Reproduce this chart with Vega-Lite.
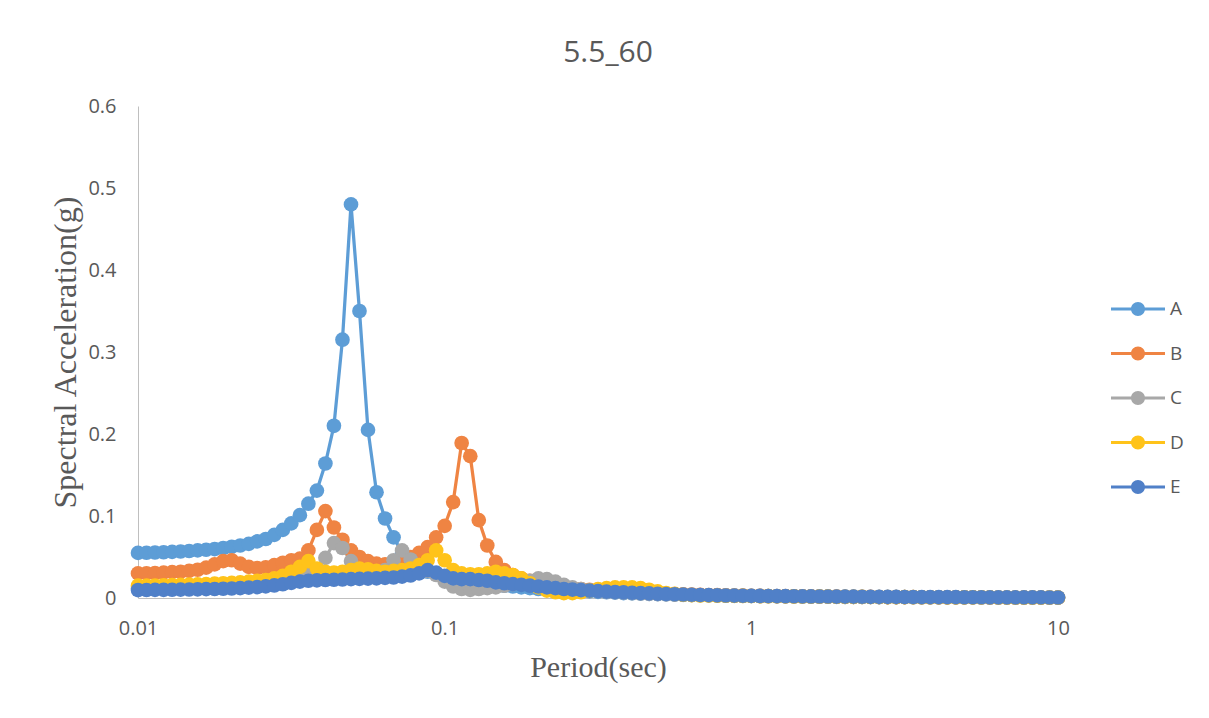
{
  "$schema": "https://vega.github.io/schema/vega-lite/v6.json",
  "width": 920,
  "height": 492,
  "autosize": "none",
  "padding": {"left": 138, "top": 106, "right": 151, "bottom": 120},
  "background": "white",
  "title": {"text": "5.5_60", "font": "Open Sans", "fontSize": 30, "fontWeight": "normal", "color": "#595959", "anchor": "middle", "offset": 28, "dx": 10},
  "config": {"view": {"stroke": null}},
  "data": {"values": [
{"series":"A","period":0.01,"sa":0.055},{"series":"A","period":0.01066,"sa":0.0552},{"series":"A","period":0.01136,"sa":0.0555},{"series":"A","period":0.01212,"sa":0.0558},{"series":"A","period":0.01292,"sa":0.0562},{"series":"A","period":0.01377,"sa":0.0567},{"series":"A","period":0.01468,"sa":0.0573},{"series":"A","period":0.01565,"sa":0.058},{"series":"A","period":0.01668,"sa":0.0588},{"series":"A","period":0.01778,"sa":0.0597},
{"series":"A","period":0.01896,"sa":0.061},{"series":"A","period":0.02021,"sa":0.0625},{"series":"A","period":0.02154,"sa":0.064},{"series":"A","period":0.02297,"sa":0.066},{"series":"A","period":0.02448,"sa":0.069},{"series":"A","period":0.0261,"sa":0.072},{"series":"A","period":0.02783,"sa":0.077},{"series":"A","period":0.02967,"sa":0.083},{"series":"A","period":0.03162,"sa":0.091},{"series":"A","period":0.03372,"sa":0.101},
{"series":"A","period":0.03594,"sa":0.115},{"series":"A","period":0.03831,"sa":0.131},{"series":"A","period":0.04084,"sa":0.164},{"series":"A","period":0.04354,"sa":0.21},{"series":"A","period":0.04642,"sa":0.315},{"series":"A","period":0.0495,"sa":0.48},{"series":"A","period":0.05275,"sa":0.35},{"series":"A","period":0.05623,"sa":0.205},{"series":"A","period":0.05995,"sa":0.129},{"series":"A","period":0.06391,"sa":0.097},
{"series":"A","period":0.06813,"sa":0.074},{"series":"A","period":0.07263,"sa":0.055},{"series":"A","period":0.07743,"sa":0.043},{"series":"A","period":0.08254,"sa":0.036},{"series":"A","period":0.08799,"sa":0.032},{"series":"A","period":0.09381,"sa":0.029},{"series":"A","period":0.1,"sa":0.026},{"series":"A","period":0.1066,"sa":0.023},{"series":"A","period":0.1136,"sa":0.021},{"series":"A","period":0.1212,"sa":0.019},
{"series":"A","period":0.1292,"sa":0.018},{"series":"A","period":0.1377,"sa":0.017},{"series":"A","period":0.1468,"sa":0.016},{"series":"A","period":0.1565,"sa":0.015},{"series":"A","period":0.1668,"sa":0.014},{"series":"A","period":0.1778,"sa":0.013},{"series":"A","period":0.1896,"sa":0.012},{"series":"A","period":0.2021,"sa":0.011},{"series":"A","period":0.2154,"sa":0.0105},{"series":"A","period":0.2297,"sa":0.01},
{"series":"A","period":0.2448,"sa":0.0095},{"series":"A","period":0.261,"sa":0.009},{"series":"A","period":0.2783,"sa":0.0085},{"series":"A","period":0.2967,"sa":0.008},{"series":"A","period":0.3162,"sa":0.0075},{"series":"A","period":0.3372,"sa":0.007},{"series":"A","period":0.3594,"sa":0.0065},{"series":"A","period":0.3831,"sa":0.006},{"series":"A","period":0.4084,"sa":0.0057},{"series":"A","period":0.4354,"sa":0.0054},
{"series":"A","period":0.4642,"sa":0.0051},{"series":"A","period":0.495,"sa":0.0048},{"series":"A","period":0.5275,"sa":0.0045},{"series":"A","period":0.5623,"sa":0.0042},{"series":"A","period":0.5995,"sa":0.004},{"series":"A","period":0.6391,"sa":0.0038},{"series":"A","period":0.6813,"sa":0.0036},{"series":"A","period":0.7263,"sa":0.0034},{"series":"A","period":0.7743,"sa":0.0032},{"series":"A","period":0.8254,"sa":0.003},
{"series":"A","period":0.8799,"sa":0.0028},{"series":"A","period":0.9381,"sa":0.0027},{"series":"A","period":1,"sa":0.0025},{"series":"A","period":1.066,"sa":0.0024},{"series":"A","period":1.136,"sa":0.0023},{"series":"A","period":1.212,"sa":0.0022},{"series":"A","period":1.292,"sa":0.0021},{"series":"A","period":1.377,"sa":0.002},{"series":"A","period":1.468,"sa":0.0019},{"series":"A","period":1.565,"sa":0.0018},
{"series":"A","period":1.668,"sa":0.0017},{"series":"A","period":1.778,"sa":0.0016},{"series":"A","period":1.896,"sa":0.0015},{"series":"A","period":2.021,"sa":0.0014},{"series":"A","period":2.154,"sa":0.0013},{"series":"A","period":2.297,"sa":0.0012},{"series":"A","period":2.448,"sa":0.0012},{"series":"A","period":2.61,"sa":0.0011},{"series":"A","period":2.783,"sa":0.0011},{"series":"A","period":2.967,"sa":0.001},
{"series":"A","period":3.162,"sa":0.001},{"series":"A","period":3.372,"sa":0.0009},{"series":"A","period":3.594,"sa":0.0009},{"series":"A","period":3.831,"sa":0.0008},{"series":"A","period":4.084,"sa":0.0008},{"series":"A","period":4.354,"sa":0.0008},{"series":"A","period":4.642,"sa":0.0007},{"series":"A","period":4.95,"sa":0.0007},{"series":"A","period":5.275,"sa":0.0007},{"series":"A","period":5.623,"sa":0.0006},
{"series":"A","period":5.995,"sa":0.0006},{"series":"A","period":6.391,"sa":0.0006},{"series":"A","period":6.813,"sa":0.0005},{"series":"A","period":7.263,"sa":0.0005},{"series":"A","period":7.743,"sa":0.0005},{"series":"A","period":8.254,"sa":0.0005},{"series":"A","period":8.799,"sa":0.0004},{"series":"A","period":9.381,"sa":0.0004},{"series":"A","period":10,"sa":0.0004},

{"series":"B","period":0.01,"sa":0.03},{"series":"B","period":0.01066,"sa":0.0302},{"series":"B","period":0.01136,"sa":0.0305},{"series":"B","period":0.01212,"sa":0.031},{"series":"B","period":0.01292,"sa":0.0315},{"series":"B","period":0.01377,"sa":0.032},{"series":"B","period":0.01468,"sa":0.033},{"series":"B","period":0.01565,"sa":0.0345},{"series":"B","period":0.01668,"sa":0.037},{"series":"B","period":0.01778,"sa":0.041},
{"series":"B","period":0.01896,"sa":0.045},{"series":"B","period":0.02021,"sa":0.046},{"series":"B","period":0.02154,"sa":0.042},{"series":"B","period":0.02297,"sa":0.038},{"series":"B","period":0.02448,"sa":0.0365},{"series":"B","period":0.0261,"sa":0.0375},{"series":"B","period":0.02783,"sa":0.04},{"series":"B","period":0.02967,"sa":0.043},{"series":"B","period":0.03162,"sa":0.046},{"series":"B","period":0.03372,"sa":0.048},
{"series":"B","period":0.03594,"sa":0.058},{"series":"B","period":0.03831,"sa":0.083},{"series":"B","period":0.04084,"sa":0.106},{"series":"B","period":0.04354,"sa":0.086},{"series":"B","period":0.04642,"sa":0.071},{"series":"B","period":0.0495,"sa":0.058},{"series":"B","period":0.05275,"sa":0.05},{"series":"B","period":0.05623,"sa":0.045},{"series":"B","period":0.05995,"sa":0.042},{"series":"B","period":0.06391,"sa":0.041},
{"series":"B","period":0.06813,"sa":0.041},{"series":"B","period":0.07263,"sa":0.045},{"series":"B","period":0.07743,"sa":0.05},{"series":"B","period":0.08254,"sa":0.055},{"series":"B","period":0.08799,"sa":0.062},{"series":"B","period":0.09381,"sa":0.074},{"series":"B","period":0.1,"sa":0.088},{"series":"B","period":0.1066,"sa":0.117},{"series":"B","period":0.1136,"sa":0.189},{"series":"B","period":0.1212,"sa":0.173},
{"series":"B","period":0.1292,"sa":0.095},{"series":"B","period":0.1377,"sa":0.064},{"series":"B","period":0.1468,"sa":0.044},{"series":"B","period":0.1565,"sa":0.034},{"series":"B","period":0.1668,"sa":0.028},{"series":"B","period":0.1778,"sa":0.024},{"series":"B","period":0.1896,"sa":0.021},{"series":"B","period":0.2021,"sa":0.019},{"series":"B","period":0.2154,"sa":0.017},{"series":"B","period":0.2297,"sa":0.015},
{"series":"B","period":0.2448,"sa":0.013},{"series":"B","period":0.261,"sa":0.012},{"series":"B","period":0.2783,"sa":0.011},{"series":"B","period":0.2967,"sa":0.01},{"series":"B","period":0.3162,"sa":0.009},{"series":"B","period":0.3372,"sa":0.0085},{"series":"B","period":0.3594,"sa":0.008},{"series":"B","period":0.3831,"sa":0.0075},{"series":"B","period":0.4084,"sa":0.007},{"series":"B","period":0.4354,"sa":0.0065},
{"series":"B","period":0.4642,"sa":0.006},{"series":"B","period":0.495,"sa":0.0056},{"series":"B","period":0.5275,"sa":0.0052},{"series":"B","period":0.5623,"sa":0.0048},{"series":"B","period":0.5995,"sa":0.0045},{"series":"B","period":0.6391,"sa":0.0042},{"series":"B","period":0.6813,"sa":0.004},{"series":"B","period":0.7263,"sa":0.0037},{"series":"B","period":0.7743,"sa":0.0035},{"series":"B","period":0.8254,"sa":0.0033},
{"series":"B","period":0.8799,"sa":0.0031},{"series":"B","period":0.9381,"sa":0.0029},{"series":"B","period":1,"sa":0.0027},{"series":"B","period":1.066,"sa":0.0026},{"series":"B","period":1.136,"sa":0.0024},{"series":"B","period":1.212,"sa":0.0023},{"series":"B","period":1.292,"sa":0.0022},{"series":"B","period":1.377,"sa":0.0021},{"series":"B","period":1.468,"sa":0.002},{"series":"B","period":1.565,"sa":0.0019},
{"series":"B","period":1.668,"sa":0.0018},{"series":"B","period":1.778,"sa":0.0017},{"series":"B","period":1.896,"sa":0.0016},{"series":"B","period":2.021,"sa":0.0015},{"series":"B","period":2.154,"sa":0.0014},{"series":"B","period":2.297,"sa":0.0013},{"series":"B","period":2.448,"sa":0.0013},{"series":"B","period":2.61,"sa":0.0012},{"series":"B","period":2.783,"sa":0.0011},{"series":"B","period":2.967,"sa":0.0011},
{"series":"B","period":3.162,"sa":0.001},{"series":"B","period":3.372,"sa":0.001},{"series":"B","period":3.594,"sa":0.0009},{"series":"B","period":3.831,"sa":0.0009},{"series":"B","period":4.084,"sa":0.0008},{"series":"B","period":4.354,"sa":0.0008},{"series":"B","period":4.642,"sa":0.0008},{"series":"B","period":4.95,"sa":0.0007},{"series":"B","period":5.275,"sa":0.0007},{"series":"B","period":5.623,"sa":0.0007},
{"series":"B","period":5.995,"sa":0.0006},{"series":"B","period":6.391,"sa":0.0006},{"series":"B","period":6.813,"sa":0.0006},{"series":"B","period":7.263,"sa":0.0005},{"series":"B","period":7.743,"sa":0.0005},{"series":"B","period":8.254,"sa":0.0005},{"series":"B","period":8.799,"sa":0.0005},{"series":"B","period":9.381,"sa":0.0004},{"series":"B","period":10,"sa":0.0004},

{"series":"C","period":0.01,"sa":0.012},{"series":"C","period":0.01066,"sa":0.012},{"series":"C","period":0.01136,"sa":0.0122},{"series":"C","period":0.01212,"sa":0.0124},{"series":"C","period":0.01292,"sa":0.0126},{"series":"C","period":0.01377,"sa":0.0128},{"series":"C","period":0.01468,"sa":0.013},{"series":"C","period":0.01565,"sa":0.0133},{"series":"C","period":0.01668,"sa":0.0136},{"series":"C","period":0.01778,"sa":0.014},
{"series":"C","period":0.01896,"sa":0.0145},{"series":"C","period":0.02021,"sa":0.015},{"series":"C","period":0.02154,"sa":0.0155},{"series":"C","period":0.02297,"sa":0.016},{"series":"C","period":0.02448,"sa":0.0168},{"series":"C","period":0.0261,"sa":0.0178},{"series":"C","period":0.02783,"sa":0.019},{"series":"C","period":0.02967,"sa":0.021},{"series":"C","period":0.03162,"sa":0.024},{"series":"C","period":0.03372,"sa":0.027},
{"series":"C","period":0.03594,"sa":0.03},{"series":"C","period":0.03831,"sa":0.035},{"series":"C","period":0.04084,"sa":0.049},{"series":"C","period":0.04354,"sa":0.067},{"series":"C","period":0.04642,"sa":0.061},{"series":"C","period":0.0495,"sa":0.045},{"series":"C","period":0.05275,"sa":0.035},{"series":"C","period":0.05623,"sa":0.03},{"series":"C","period":0.05995,"sa":0.03},{"series":"C","period":0.06391,"sa":0.034},
{"series":"C","period":0.06813,"sa":0.046},{"series":"C","period":0.07263,"sa":0.058},{"series":"C","period":0.07743,"sa":0.047},{"series":"C","period":0.08254,"sa":0.038},{"series":"C","period":0.08799,"sa":0.033},{"series":"C","period":0.09381,"sa":0.028},{"series":"C","period":0.1,"sa":0.02},{"series":"C","period":0.1066,"sa":0.014},{"series":"C","period":0.1136,"sa":0.011},{"series":"C","period":0.1212,"sa":0.01},
{"series":"C","period":0.1292,"sa":0.011},{"series":"C","period":0.1377,"sa":0.012},{"series":"C","period":0.1468,"sa":0.013},{"series":"C","period":0.1565,"sa":0.015},{"series":"C","period":0.1668,"sa":0.017},{"series":"C","period":0.1778,"sa":0.019},{"series":"C","period":0.1896,"sa":0.021},{"series":"C","period":0.2021,"sa":0.024},{"series":"C","period":0.2154,"sa":0.023},{"series":"C","period":0.2297,"sa":0.02},
{"series":"C","period":0.2448,"sa":0.016},{"series":"C","period":0.261,"sa":0.013},{"series":"C","period":0.2783,"sa":0.011},{"series":"C","period":0.2967,"sa":0.0095},{"series":"C","period":0.3162,"sa":0.0085},{"series":"C","period":0.3372,"sa":0.0075},{"series":"C","period":0.3594,"sa":0.007},{"series":"C","period":0.3831,"sa":0.0065},{"series":"C","period":0.4084,"sa":0.006},{"series":"C","period":0.4354,"sa":0.0055},
{"series":"C","period":0.4642,"sa":0.005},{"series":"C","period":0.495,"sa":0.0047},{"series":"C","period":0.5275,"sa":0.0044},{"series":"C","period":0.5623,"sa":0.0041},{"series":"C","period":0.5995,"sa":0.0038},{"series":"C","period":0.6391,"sa":0.0036},{"series":"C","period":0.6813,"sa":0.0034},{"series":"C","period":0.7263,"sa":0.0032},{"series":"C","period":0.7743,"sa":0.003},{"series":"C","period":0.8254,"sa":0.0028},
{"series":"C","period":0.8799,"sa":0.0027},{"series":"C","period":0.9381,"sa":0.0025},{"series":"C","period":1,"sa":0.0024},{"series":"C","period":1.066,"sa":0.0023},{"series":"C","period":1.136,"sa":0.0022},{"series":"C","period":1.212,"sa":0.0021},{"series":"C","period":1.292,"sa":0.002},{"series":"C","period":1.377,"sa":0.0019},{"series":"C","period":1.468,"sa":0.0018},{"series":"C","period":1.565,"sa":0.0017},
{"series":"C","period":1.668,"sa":0.0016},{"series":"C","period":1.778,"sa":0.0015},{"series":"C","period":1.896,"sa":0.0014},{"series":"C","period":2.021,"sa":0.0014},{"series":"C","period":2.154,"sa":0.0013},{"series":"C","period":2.297,"sa":0.0012},{"series":"C","period":2.448,"sa":0.0012},{"series":"C","period":2.61,"sa":0.0011},{"series":"C","period":2.783,"sa":0.0011},{"series":"C","period":2.967,"sa":0.001},
{"series":"C","period":3.162,"sa":0.001},{"series":"C","period":3.372,"sa":0.0009},{"series":"C","period":3.594,"sa":0.0009},{"series":"C","period":3.831,"sa":0.0009},{"series":"C","period":4.084,"sa":0.0008},{"series":"C","period":4.354,"sa":0.0008},{"series":"C","period":4.642,"sa":0.0007},{"series":"C","period":4.95,"sa":0.0007},{"series":"C","period":5.275,"sa":0.0007},{"series":"C","period":5.623,"sa":0.0006},
{"series":"C","period":5.995,"sa":0.0006},{"series":"C","period":6.391,"sa":0.0006},{"series":"C","period":6.813,"sa":0.0006},{"series":"C","period":7.263,"sa":0.0005},{"series":"C","period":7.743,"sa":0.0005},{"series":"C","period":8.254,"sa":0.0005},{"series":"C","period":8.799,"sa":0.0004},{"series":"C","period":9.381,"sa":0.0004},{"series":"C","period":10,"sa":0.0004},

{"series":"D","period":0.01,"sa":0.015},{"series":"D","period":0.01066,"sa":0.015},{"series":"D","period":0.01136,"sa":0.0152},{"series":"D","period":0.01212,"sa":0.0155},{"series":"D","period":0.01292,"sa":0.0158},{"series":"D","period":0.01377,"sa":0.016},{"series":"D","period":0.01468,"sa":0.0163},{"series":"D","period":0.01565,"sa":0.0166},{"series":"D","period":0.01668,"sa":0.017},{"series":"D","period":0.01778,"sa":0.0175},
{"series":"D","period":0.01896,"sa":0.018},{"series":"D","period":0.02021,"sa":0.0185},{"series":"D","period":0.02154,"sa":0.019},{"series":"D","period":0.02297,"sa":0.02},{"series":"D","period":0.02448,"sa":0.021},{"series":"D","period":0.0261,"sa":0.022},{"series":"D","period":0.02783,"sa":0.024},{"series":"D","period":0.02967,"sa":0.027},{"series":"D","period":0.03162,"sa":0.032},{"series":"D","period":0.03372,"sa":0.038},
{"series":"D","period":0.03594,"sa":0.045},{"series":"D","period":0.03831,"sa":0.036},{"series":"D","period":0.04084,"sa":0.032},{"series":"D","period":0.04354,"sa":0.031},{"series":"D","period":0.04642,"sa":0.032},{"series":"D","period":0.0495,"sa":0.034},{"series":"D","period":0.05275,"sa":0.036},{"series":"D","period":0.05623,"sa":0.035},{"series":"D","period":0.05995,"sa":0.033},{"series":"D","period":0.06391,"sa":0.032},
{"series":"D","period":0.06813,"sa":0.033},{"series":"D","period":0.07263,"sa":0.034},{"series":"D","period":0.07743,"sa":0.036},{"series":"D","period":0.08254,"sa":0.04},{"series":"D","period":0.08799,"sa":0.046},{"series":"D","period":0.09381,"sa":0.058},{"series":"D","period":0.1,"sa":0.046},{"series":"D","period":0.1066,"sa":0.034},{"series":"D","period":0.1136,"sa":0.03},{"series":"D","period":0.1212,"sa":0.029},
{"series":"D","period":0.1292,"sa":0.029},{"series":"D","period":0.1377,"sa":0.03},{"series":"D","period":0.1468,"sa":0.032},{"series":"D","period":0.1565,"sa":0.03},{"series":"D","period":0.1668,"sa":0.028},{"series":"D","period":0.1778,"sa":0.024},{"series":"D","period":0.1896,"sa":0.018},{"series":"D","period":0.2021,"sa":0.013},{"series":"D","period":0.2154,"sa":0.009},{"series":"D","period":0.2297,"sa":0.007},
{"series":"D","period":0.2448,"sa":0.006},{"series":"D","period":0.261,"sa":0.006},{"series":"D","period":0.2783,"sa":0.007},{"series":"D","period":0.2967,"sa":0.009},{"series":"D","period":0.3162,"sa":0.011},{"series":"D","period":0.3372,"sa":0.012},{"series":"D","period":0.3594,"sa":0.013},{"series":"D","period":0.3831,"sa":0.013},{"series":"D","period":0.4084,"sa":0.013},{"series":"D","period":0.4354,"sa":0.012},
{"series":"D","period":0.4642,"sa":0.01},{"series":"D","period":0.495,"sa":0.008},{"series":"D","period":0.5275,"sa":0.006},{"series":"D","period":0.5623,"sa":0.005},{"series":"D","period":0.5995,"sa":0.004},{"series":"D","period":0.6391,"sa":0.0035},{"series":"D","period":0.6813,"sa":0.003},{"series":"D","period":0.7263,"sa":0.003},{"series":"D","period":0.7743,"sa":0.0028},{"series":"D","period":0.8254,"sa":0.0027},
{"series":"D","period":0.8799,"sa":0.0026},{"series":"D","period":0.9381,"sa":0.0025},{"series":"D","period":1,"sa":0.0024},{"series":"D","period":1.066,"sa":0.0023},{"series":"D","period":1.136,"sa":0.0022},{"series":"D","period":1.212,"sa":0.0021},{"series":"D","period":1.292,"sa":0.002},{"series":"D","period":1.377,"sa":0.0019},{"series":"D","period":1.468,"sa":0.0018},{"series":"D","period":1.565,"sa":0.0017},
{"series":"D","period":1.668,"sa":0.0016},{"series":"D","period":1.778,"sa":0.0016},{"series":"D","period":1.896,"sa":0.0015},{"series":"D","period":2.021,"sa":0.0014},{"series":"D","period":2.154,"sa":0.0014},{"series":"D","period":2.297,"sa":0.0013},{"series":"D","period":2.448,"sa":0.0012},{"series":"D","period":2.61,"sa":0.0012},{"series":"D","period":2.783,"sa":0.0011},{"series":"D","period":2.967,"sa":0.0011},
{"series":"D","period":3.162,"sa":0.001},{"series":"D","period":3.372,"sa":0.001},{"series":"D","period":3.594,"sa":0.0009},{"series":"D","period":3.831,"sa":0.0009},{"series":"D","period":4.084,"sa":0.0009},{"series":"D","period":4.354,"sa":0.0008},{"series":"D","period":4.642,"sa":0.0008},{"series":"D","period":4.95,"sa":0.0008},{"series":"D","period":5.275,"sa":0.0007},{"series":"D","period":5.623,"sa":0.0007},
{"series":"D","period":5.995,"sa":0.0007},{"series":"D","period":6.391,"sa":0.0006},{"series":"D","period":6.813,"sa":0.0006},{"series":"D","period":7.263,"sa":0.0006},{"series":"D","period":7.743,"sa":0.0005},{"series":"D","period":8.254,"sa":0.0005},{"series":"D","period":8.799,"sa":0.0005},{"series":"D","period":9.381,"sa":0.0005},{"series":"D","period":10,"sa":0.0004},

{"series":"E","period":0.01,"sa":0.0097},{"series":"E","period":0.01066,"sa":0.0098},{"series":"E","period":0.01136,"sa":0.0099},{"series":"E","period":0.01212,"sa":0.01},{"series":"E","period":0.01292,"sa":0.0101},{"series":"E","period":0.01377,"sa":0.0102},{"series":"E","period":0.01468,"sa":0.0104},{"series":"E","period":0.01565,"sa":0.0106},{"series":"E","period":0.01668,"sa":0.0108},{"series":"E","period":0.01778,"sa":0.011},
{"series":"E","period":0.01896,"sa":0.0113},{"series":"E","period":0.02021,"sa":0.0116},{"series":"E","period":0.02154,"sa":0.012},{"series":"E","period":0.02297,"sa":0.0126},{"series":"E","period":0.02448,"sa":0.0133},{"series":"E","period":0.0261,"sa":0.0142},{"series":"E","period":0.02783,"sa":0.0153},{"series":"E","period":0.02967,"sa":0.0168},{"series":"E","period":0.03162,"sa":0.0185},{"series":"E","period":0.03372,"sa":0.02},
{"series":"E","period":0.03594,"sa":0.021},{"series":"E","period":0.03831,"sa":0.0215},{"series":"E","period":0.04084,"sa":0.022},{"series":"E","period":0.04354,"sa":0.0223},{"series":"E","period":0.04642,"sa":0.0226},{"series":"E","period":0.0495,"sa":0.023},{"series":"E","period":0.05275,"sa":0.0233},{"series":"E","period":0.05623,"sa":0.0237},{"series":"E","period":0.05995,"sa":0.024},{"series":"E","period":0.06391,"sa":0.0245},
{"series":"E","period":0.06813,"sa":0.025},{"series":"E","period":0.07263,"sa":0.026},{"series":"E","period":0.07743,"sa":0.0275},{"series":"E","period":0.08254,"sa":0.03},{"series":"E","period":0.08799,"sa":0.034},{"series":"E","period":0.09381,"sa":0.031},{"series":"E","period":0.1,"sa":0.027},{"series":"E","period":0.1066,"sa":0.024},{"series":"E","period":0.1136,"sa":0.023},{"series":"E","period":0.1212,"sa":0.023},
{"series":"E","period":0.1292,"sa":0.022},{"series":"E","period":0.1377,"sa":0.021},{"series":"E","period":0.1468,"sa":0.019},{"series":"E","period":0.1565,"sa":0.018},{"series":"E","period":0.1668,"sa":0.017},{"series":"E","period":0.1778,"sa":0.016},{"series":"E","period":0.1896,"sa":0.015},{"series":"E","period":0.2021,"sa":0.014},{"series":"E","period":0.2154,"sa":0.013},{"series":"E","period":0.2297,"sa":0.012},
{"series":"E","period":0.2448,"sa":0.011},{"series":"E","period":0.261,"sa":0.0103},{"series":"E","period":0.2783,"sa":0.0096},{"series":"E","period":0.2967,"sa":0.009},{"series":"E","period":0.3162,"sa":0.0084},{"series":"E","period":0.3372,"sa":0.0078},{"series":"E","period":0.3594,"sa":0.0073},{"series":"E","period":0.3831,"sa":0.0068},{"series":"E","period":0.4084,"sa":0.0064},{"series":"E","period":0.4354,"sa":0.006},
{"series":"E","period":0.4642,"sa":0.0056},{"series":"E","period":0.495,"sa":0.0052},{"series":"E","period":0.5275,"sa":0.0049},{"series":"E","period":0.5623,"sa":0.0046},{"series":"E","period":0.5995,"sa":0.0043},{"series":"E","period":0.6391,"sa":0.004},{"series":"E","period":0.6813,"sa":0.0037},{"series":"E","period":0.7263,"sa":0.0035},{"series":"E","period":0.7743,"sa":0.0033},{"series":"E","period":0.8254,"sa":0.0031},
{"series":"E","period":0.8799,"sa":0.0029},{"series":"E","period":0.9381,"sa":0.0027},{"series":"E","period":1,"sa":0.0026},{"series":"E","period":1.066,"sa":0.0025},{"series":"E","period":1.136,"sa":0.0024},{"series":"E","period":1.212,"sa":0.0023},{"series":"E","period":1.292,"sa":0.0022},{"series":"E","period":1.377,"sa":0.0021},{"series":"E","period":1.468,"sa":0.002},{"series":"E","period":1.565,"sa":0.0019},
{"series":"E","period":1.668,"sa":0.0018},{"series":"E","period":1.778,"sa":0.0018},{"series":"E","period":1.896,"sa":0.0017},{"series":"E","period":2.021,"sa":0.0016},{"series":"E","period":2.154,"sa":0.0016},{"series":"E","period":2.297,"sa":0.0015},{"series":"E","period":2.448,"sa":0.0014},{"series":"E","period":2.61,"sa":0.0014},{"series":"E","period":2.783,"sa":0.0013},{"series":"E","period":2.967,"sa":0.0013},
{"series":"E","period":3.162,"sa":0.0012},{"series":"E","period":3.372,"sa":0.0012},{"series":"E","period":3.594,"sa":0.0011},{"series":"E","period":3.831,"sa":0.0011},{"series":"E","period":4.084,"sa":0.001},{"series":"E","period":4.354,"sa":0.001},{"series":"E","period":4.642,"sa":0.001},{"series":"E","period":4.95,"sa":0.0009},{"series":"E","period":5.275,"sa":0.0009},{"series":"E","period":5.623,"sa":0.0009},
{"series":"E","period":5.995,"sa":0.0008},{"series":"E","period":6.391,"sa":0.0008},{"series":"E","period":6.813,"sa":0.0008},{"series":"E","period":7.263,"sa":0.0007},{"series":"E","period":7.743,"sa":0.0007},{"series":"E","period":8.254,"sa":0.0007},{"series":"E","period":8.799,"sa":0.0007},{"series":"E","period":9.381,"sa":0.0006},{"series":"E","period":10,"sa":0.0006}
  ]},
  "encoding": {
    "x": {
      "field": "period", "type": "quantitative",
      "scale": {"type": "log", "domain": [0.01, 10], "nice": false},
      "axis": {
        "title": "Period(sec)", "values": [0.01, 0.1, 1, 10], "format": "~g",
        "grid": false, "ticks": false, "tickSize": 0,
        "domainColor": "#bfbfbf", "domainWidth": 1,
        "labelFont": "Open Sans", "labelFontSize": 20, "labelColor": "#595959",
        "labelPadding": 20, "labelFlush": false, "labelOverlap": false,
        "titleFont": "Liberation Serif", "titleFontSize": 30, "titleFontWeight": "normal",
        "titleColor": "#595959", "titlePadding": 14
      }
    },
    "y": {
      "field": "sa", "type": "quantitative",
      "scale": {"domain": [0, 0.6], "nice": false},
      "axis": {
        "title": "Spectral Acceleration(g)", "values": [0, 0.1, 0.2, 0.3, 0.4, 0.5, 0.6], "format": "~g",
        "grid": false, "ticks": false, "tickSize": 0,
        "domainColor": "#bfbfbf", "domainWidth": 1,
        "labelFont": "Open Sans", "labelFontSize": 20, "labelColor": "#595959",
        "labelPadding": 22, "labelFlush": false, "labelOverlap": false,
        "titleFont": "Liberation Serif", "titleFontSize": 32, "titleFontWeight": "normal",
        "titleColor": "#595959", "titlePadding": 5
      }
    },
    "color": {
      "field": "series", "type": "nominal",
      "scale": {"domain": ["A", "B", "C", "D", "E"], "range": ["#5d9dd6", "#ef8443", "#a8a8a8", "#ffc31a", "#5080c8"]},
      "legend": {
        "title": null, "orient": "none", "legendX": 990, "legendY": 193, "padding": 0,
        "symbolType": "M-2.7,-0.14H2.7V0.14H-2.7Z M-0.7,0A0.7,0.7 0 1,1 0.7,0A0.7,0.7 0 1,1 -0.7,0Z",
        "symbolSize": 400, "symbolStrokeWidth": 0, "symbolOpacity": 1,
        "labelFont": "Open Sans", "labelFontSize": 19, "labelColor": "#595959",
        "labelOffset": 22, "rowPadding": 24.5,
        "encode": {"symbols": {"update": {"fill": {"scale": "color", "field": "value"}, "stroke": {"value": "transparent"}}}}
      }
    }
  },
  "layer": [
    {"mark": {"type": "line", "strokeWidth": 3.25}},
    {"mark": {"type": "point", "filled": true, "size": 215, "opacity": 1}}
  ]
}
